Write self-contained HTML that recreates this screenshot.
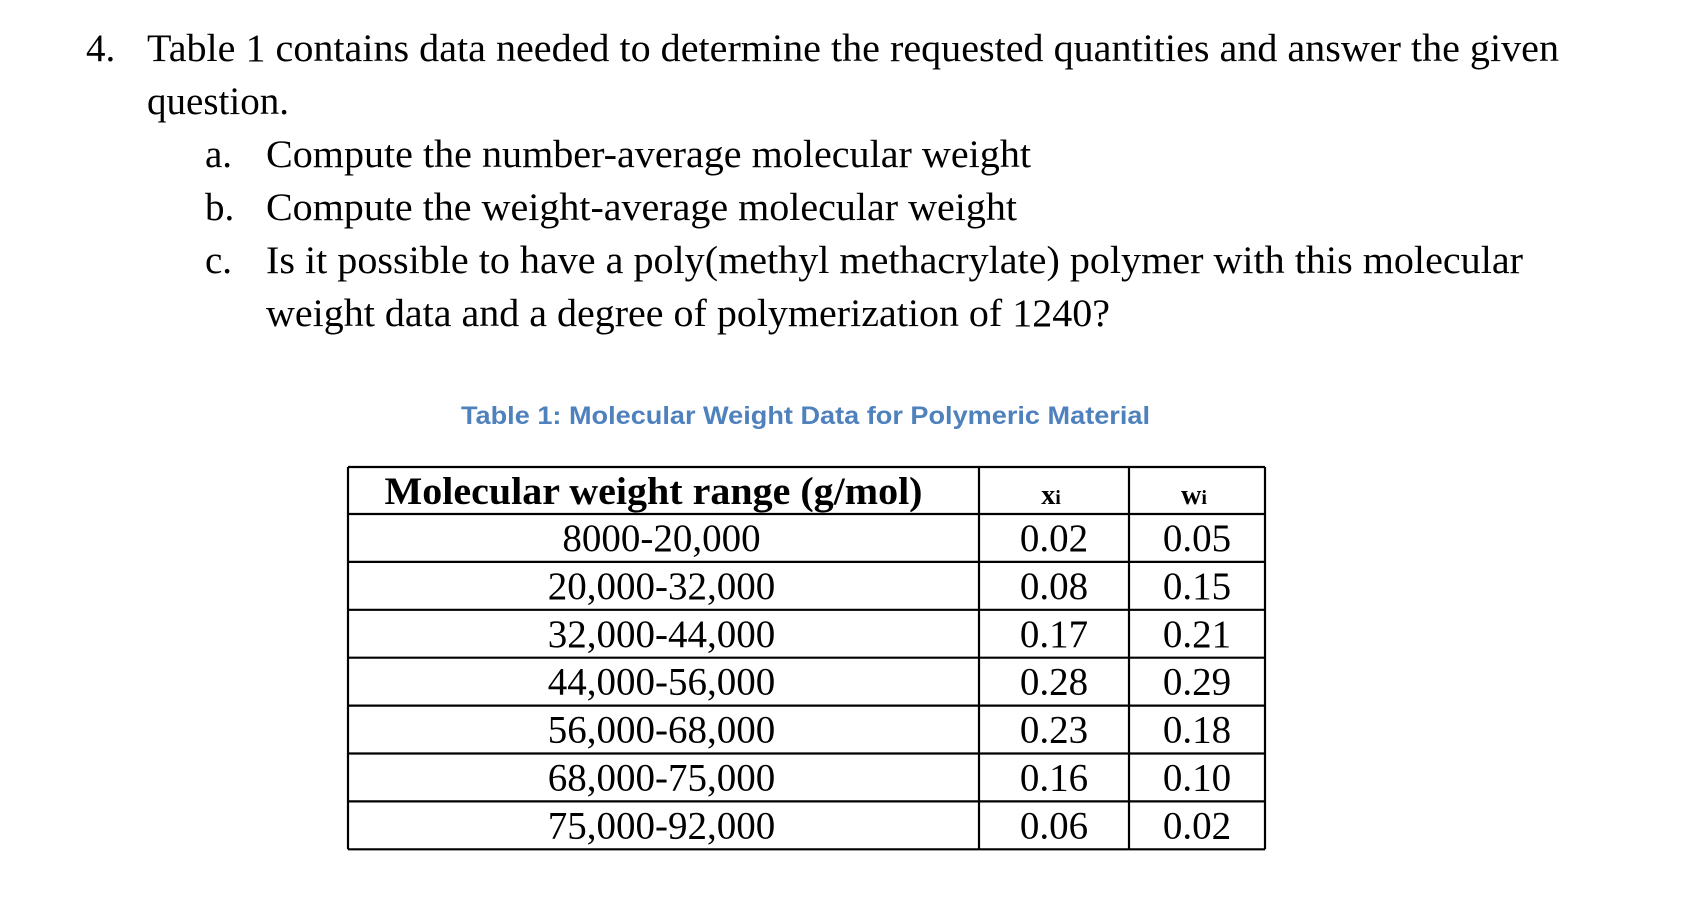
<!DOCTYPE html>
<html><head><meta charset="utf-8"><style>
html,body{margin:0;padding:0;background:#fff;width:1687px;height:905px;overflow:hidden}
svg{display:block}
.t{font-family:"Liberation Serif",serif;font-size:39px;fill:#000}
.h{font-family:"Liberation Serif",serif;font-weight:bold;fill:#000}
.cap{font-family:"Liberation Sans",sans-serif;font-weight:bold;font-size:25px;fill:#4f81bd}
</style></head><body>
<svg width="1687" height="905" viewBox="0 0 1687 905">
<g>
<text class="t" x="86" y="61">4.</text>
<text class="t" x="147" y="61" textLength="1412" lengthAdjust="spacingAndGlyphs">Table 1 contains data needed to determine the requested quantities and answer the given</text>
<text class="t" x="147" y="114" textLength="142" lengthAdjust="spacingAndGlyphs">question.</text>
<text class="t" x="205" y="167">a.</text>
<text class="t" x="266" y="167" textLength="765" lengthAdjust="spacingAndGlyphs">Compute the number-average molecular weight</text>
<text class="t" x="205" y="220">b.</text>
<text class="t" x="266" y="220" textLength="751" lengthAdjust="spacingAndGlyphs">Compute the weight-average molecular weight</text>
<text class="t" x="205" y="273">c.</text>
<text class="t" x="266" y="273" textLength="1257" lengthAdjust="spacingAndGlyphs">Is it possible to have a poly(methyl methacrylate) polymer with this molecular</text>
<text class="t" x="266" y="326" textLength="844" lengthAdjust="spacingAndGlyphs">weight data and a degree of polymerization of 1240?</text>
</g>
<text class="cap" x="461" y="424" textLength="689" lengthAdjust="spacingAndGlyphs">Table 1:  Molecular Weight Data for Polymeric Material</text>
<g id="tbl"></g>
</svg>
<script>
const ranges=["8000-20,000","20,000-32,000","32,000-44,000","44,000-56,000","56,000-68,000","68,000-75,000","75,000-92,000"];
const xi=["0.02","0.08","0.17","0.28","0.23","0.16","0.06"];
const wi=["0.05","0.15","0.21","0.29","0.18","0.10","0.02"];
const NS="http://www.w3.org/2000/svg";
const g=document.getElementById('tbl');
const L=348,R=1265,C1=979,C2=1129,T=467,HB=514,RH=47.9;
function line(x1,y1,x2,y2,nm){const l=document.createElementNS(NS,'line');
l.setAttribute('x1',x1);l.setAttribute('y1',y1);l.setAttribute('x2',x2);l.setAttribute('y2',y2);
l.setAttribute('stroke','#000');l.setAttribute('stroke-width','2.2');


g.appendChild(l);}
function txt(s,x,y,cls,size,nm){const t=document.createElementNS(NS,'text');
t.setAttribute('x',x);t.setAttribute('y',y);t.setAttribute('class',cls);t.setAttribute('font-size',size);
t.setAttribute('text-anchor','middle');t.textContent=s;


g.appendChild(t);return t;}
const B=HB+RH*ranges.length;
line(L,T,R,T,'table-top-border');
line(L,HB,R,HB,'header-bottom-border');
line(L,T,L,B,'table-left-border');
line(C1,T,C1,B,'column-divider-1');
line(C2,T,C2,B,'column-divider-2');
line(R,T,R,B,'table-right-border');
const hd=txt("Molecular weight range (g/mol)",(L+C1)/2-10,504,'h',39,'header-range');
hd.setAttribute('textLength','538');hd.setAttribute('lengthAdjust','spacingAndGlyphs');
const hx=txt("x",(C1+C2)/2-3,504,'h',28,'header-xi');
const s1=document.createElementNS(NS,'tspan');s1.setAttribute('font-size','20');s1.textContent='i';hx.appendChild(s1);
const hw=txt("w",(C2+R)/2-3,504,'h',28,'header-wi');
const s2=document.createElementNS(NS,'tspan');s2.setAttribute('font-size','20');s2.textContent='i';hw.appendChild(s2);
ranges.forEach((r,i)=>{
  const y0=HB+RH*i;
  line(L,y0+RH,R,y0+RH,'row-border-'+(i+1));
  txt(r,(L+C1)/2-2,y0+37,'t',39,'range-cell-'+(i+1));
  txt(xi[i],(C1+C2)/2,y0+37,'t',39,'xi-cell-'+(i+1));
  txt(wi[i],(C2+R)/2,y0+37,'t',39,'wi-cell-'+(i+1));
});
</script>
</body></html>
